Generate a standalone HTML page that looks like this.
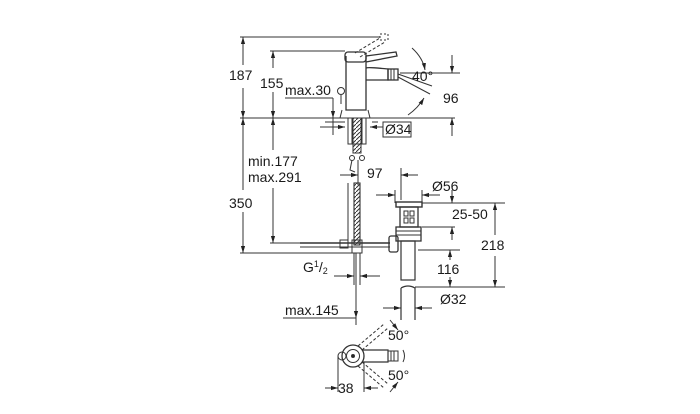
<!DOCTYPE html>
<html><head><style>
html,body{margin:0;padding:0;background:#fff;}
svg{display:block;}
text{font-family:"Liberation Sans",sans-serif;font-size:14px;fill:#1a1a1a;}
</style></head><body>
<svg width="700" height="414" viewBox="0 0 700 414" xmlns="http://www.w3.org/2000/svg">
<defs>
<marker id="a" viewBox="0 0 10 10" refX="10" refY="5" markerWidth="7" markerHeight="7" orient="auto-start-reverse"><path d="M0,2 L10,5 L0,8 z" fill="#222"/></marker>
<pattern id="h" width="4" height="4" patternUnits="userSpaceOnUse"><path d="M0,4 L4,0" stroke="#333" stroke-width="1"/></pattern>
</defs>
<g stroke="#333" stroke-width="1" fill="none">
<line x1="240" y1="37" x2="380" y2="37"/>
<line x1="270" y1="51" x2="345" y2="51"/>
<line x1="240" y1="118" x2="455" y2="118"/>
<line x1="285" y1="98" x2="333" y2="98"/>
<line x1="240" y1="253" x2="358" y2="253"/>
<line x1="270" y1="243" x2="345" y2="243"/>
<line x1="243" y1="37" x2="243" y2="65" marker-start="url(#a)"/>
<line x1="243" y1="88" x2="243" y2="118" marker-end="url(#a)"/>
<line x1="273" y1="51" x2="273" y2="68" marker-start="url(#a)"/>
<line x1="273" y1="92" x2="273" y2="118" marker-end="url(#a)"/>
<line x1="333" y1="98" x2="333" y2="118" marker-end="url(#a)"/>
<line x1="333" y1="118" x2="333" y2="135"/>
<line x1="243" y1="118" x2="243" y2="190" marker-start="url(#a)"/>
<line x1="243" y1="212" x2="243" y2="253" marker-end="url(#a)"/>
<line x1="273" y1="118" x2="273" y2="150" marker-start="url(#a)"/>
<line x1="273" y1="188" x2="273" y2="243" marker-end="url(#a)"/>
<line x1="452" y1="55" x2="452" y2="73" marker-end="url(#a)"/>
<line x1="400" y1="73" x2="460" y2="73"/>
<line x1="452" y1="118" x2="452" y2="136" marker-start="url(#a)"/>
<path d="M412,48 Q423,58 425,70" marker-end="url(#a)"/>
<path d="M424,98 Q418,108 408,115" marker-start="url(#a)"/>
<line x1="398" y1="74" x2="432" y2="86"/>
<line x1="398" y1="77" x2="430" y2="94"/>
<path d="M346,56 L346,110 L366,110 L366,56" stroke-width="1.3"/>
<rect x="345" y="52" width="21" height="10" rx="3" stroke-width="1.3"/>
<path d="M366,56 L396,52 L397,56 L366,62" stroke-width="1.3"/>
<path d="M355,53 L380,38 M360,57 L385,42" stroke-dasharray="3,2"/>
<rect x="380" y="34" width="8" height="6" stroke-dasharray="2,2"/>
<path d="M366,68 Q368,67 388,69 L388,80 L366,80" stroke-width="1.3"/>
<rect x="388" y="69" width="10" height="11" stroke-width="1.3"/>
<line x1="391" y1="69" x2="391" y2="80"/><line x1="394" y1="69" x2="394" y2="80"/>
<circle cx="341" cy="91" r="3.5"/>
<line x1="341" y1="95" x2="341" y2="104"/>
<path d="M342,110 L340,118 L370,118 L368,110"/>
<path d="M325,122 L345,122 M372,122 L378,122"/>
<rect x="348" y="118" width="18" height="26"/>
<line x1="352" y1="118" x2="352" y2="144"/><line x1="362" y1="118" x2="362" y2="144"/>
<rect x="353" y="118" width="8" height="35" fill="url(#h)"/>
<line x1="320" y1="127" x2="345" y2="127" marker-end="url(#a)"/>
<line x1="370" y1="127" x2="383" y2="127" marker-start="url(#a)"/>
<rect x="383" y="122" width="28" height="15"/>
<circle cx="352" cy="158" r="2.5"/><circle cx="362" cy="158" r="2.5"/>
<path d="M352,160 L350,170 L355,172"/>
<line x1="358" y1="160" x2="358" y2="185"/>
<line x1="401" y1="168" x2="401" y2="200"/>
<line x1="340" y1="175" x2="358" y2="175" marker-end="url(#a)"/>
<line x1="418" y1="175" x2="401" y2="175" marker-end="url(#a)"/>
<rect x="354" y="183" width="6" height="62" fill="url(#h)" stroke-width="1.1"/>
<line x1="348" y1="183" x2="348" y2="245"/>
<rect x="352" y="240" width="10" height="13"/>
<line x1="300" y1="243" x2="390" y2="243" stroke-width="1.4"/>
<line x1="300" y1="247" x2="390" y2="247"/>
<rect x="340" y="240" width="8" height="8"/>
<line x1="354" y1="253" x2="354" y2="285"/><line x1="360" y1="253" x2="360" y2="285"/>
<line x1="334" y1="276" x2="354" y2="276" marker-end="url(#a)"/>
<line x1="380" y1="276" x2="360" y2="276" marker-end="url(#a)"/>
<line x1="283" y1="318" x2="356" y2="318"/>
<line x1="356" y1="253" x2="356" y2="325"/>
<line x1="356" y1="305" x2="356" y2="318" marker-end="url(#a)"/>
<line x1="395" y1="190" x2="395" y2="203"/><line x1="422" y1="190" x2="422" y2="203"/>
<line x1="376" y1="195" x2="395" y2="195" marker-end="url(#a)"/>
<line x1="440" y1="195" x2="422" y2="195" marker-end="url(#a)"/>
<rect x="396" y="202" width="26" height="5" stroke-width="1.4"/>
<rect x="400" y="207" width="18" height="20" stroke-width="1.3"/>
<rect x="404" y="211" width="4" height="5"/><rect x="410" y="211" width="4" height="5"/>
<rect x="404" y="218" width="4" height="5"/><rect x="410" y="218" width="4" height="5"/>
<rect x="396" y="227" width="25" height="14" stroke-width="1.3"/>
<line x1="396" y1="231" x2="421" y2="231"/><line x1="396" y1="235" x2="421" y2="235"/>
<rect x="389" y="236" width="9" height="16" rx="2" stroke-width="1.3"/>
<rect x="401" y="241" width="14" height="39" stroke-width="1.2"/>
<path d="M401,288 Q408,284 415,288 L415,320 M401,288 L401,320" stroke-width="1.2"/>
<line x1="422" y1="203" x2="505" y2="203"/>
<line x1="422" y1="227" x2="455" y2="227"/>
<line x1="418" y1="250" x2="460" y2="250"/>
<line x1="415" y1="287" x2="505" y2="287"/>
<line x1="452" y1="190" x2="452" y2="203" marker-end="url(#a)"/>
<line x1="452" y1="240" x2="452" y2="227" marker-end="url(#a)"/>
<line x1="495" y1="203" x2="495" y2="235" marker-start="url(#a)"/>
<line x1="495" y1="256" x2="495" y2="287" marker-end="url(#a)"/>
<line x1="450" y1="250" x2="450" y2="260" marker-start="url(#a)"/>
<line x1="450" y1="277" x2="450" y2="287" marker-end="url(#a)"/>
<line x1="383" y1="308" x2="401" y2="308" marker-end="url(#a)"/>
<line x1="432" y1="308" x2="415" y2="308" marker-end="url(#a)"/>
<circle cx="353" cy="356" r="11" stroke-width="1.3"/>
<circle cx="353" cy="356" r="6.5"/>
<circle cx="353" cy="356" r="1.5" fill="#222"/>
<circle cx="342" cy="356" r="4"/>
<path d="M362,350 L388,350 L388,362 L362,362" stroke-width="1.2"/>
<rect x="388" y="351" width="10" height="10"/>
<line x1="391" y1="351" x2="391" y2="361"/><line x1="394" y1="351" x2="394" y2="361"/>
<path d="M358,346 L384,324 M362,350 L388,328" stroke-dasharray="3,2"/>
<path d="M358,366 L384,388 M362,362 L388,384" stroke-dasharray="3,2"/>
<path d="M390,320 L398,330" marker-end="url(#a)"/>
<path d="M390,392 L398,382" marker-end="url(#a)"/>
<path d="M403,350 Q406,356 403,362"/>
<line x1="338" y1="356" x2="338" y2="392"/><line x1="364" y1="362" x2="364" y2="392"/>
<line x1="325" y1="388" x2="338" y2="388" marker-end="url(#a)"/>
<line x1="378" y1="388" x2="364" y2="388" marker-end="url(#a)"/>
</g>
<text x="229" y="80">187</text>
<text x="260" y="88">155</text>
<text x="285" y="95">max.30</text>
<text x="412" y="81">40°</text>
<text x="443" y="103">96</text>
<text x="385" y="134">Ø34</text>
<text x="248" y="166">min.177</text>
<text x="248" y="182">max.291</text>
<text x="229" y="208">350</text>
<text x="367" y="178">97</text>
<text x="432" y="191">Ø56</text>
<text x="452" y="219">25-50</text>
<text x="481" y="250">218</text>
<text x="437" y="274">116</text>
<text x="303" y="272">G<tspan dy="-5" font-size="9">1</tspan><tspan dy="5">/</tspan><tspan font-size="9" dy="2">2</tspan></text>
<text x="440" y="304">Ø32</text>
<text x="285" y="315">max.145</text>
<text x="388" y="340">50°</text>
<text x="388" y="380">50°</text>
<text x="338" y="393">38</text>
</svg>
</body></html>
